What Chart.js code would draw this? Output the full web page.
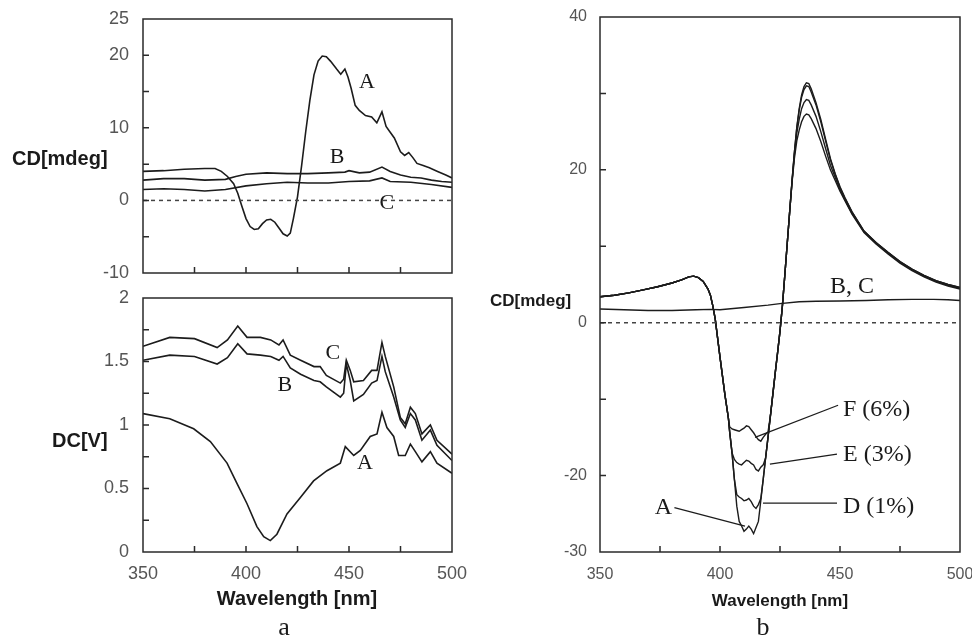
<!DOCTYPE html>
<html><head><meta charset="utf-8">
<script src="https://cdn.jsdelivr.net/npm/chart.js@4.4.0/dist/chart.umd.min.js"></script>
<style>
html,body{margin:0;padding:0;background:#fff;}
body{width:972px;height:638px;position:relative;overflow:hidden;}
canvas{position:absolute;}
.t{position:absolute;white-space:nowrap;color:#1a1a1a;}
.sans{font-family:'Liberation Sans',Arial,sans-serif;font-weight:bold;}
.serif{font-family:'Liberation Serif','Times New Roman',serif;}
</style></head><body>
<canvas id="c1" width="470" height="290" style="left:0px;top:0px"></canvas>
<canvas id="c2" width="470" height="358" style="left:0px;top:280px"></canvas>
<canvas id="c3" width="492" height="600" style="left:480px;top:0px"></canvas>
<div class="t sans" style="left:12px;top:158px;font-size:20px;line-height:20px;transform:translateY(-50%)">CD[mdeg]</div>
<div class="t sans" style="left:52px;top:440px;font-size:20px;line-height:20px;transform:translateY(-50%)">DC[V]</div>
<div class="t sans" style="left:297px;top:598px;font-size:20px;line-height:20px;transform:translate(-50%,-50%)">Wavelength [nm]</div>
<div class="t serif" style="left:284px;top:614px;font-size:26px;line-height:26px;transform:translateX(-50%)">a</div>
<div class="t sans" style="left:490px;top:300px;font-size:17px;line-height:17px;transform:translateY(-50%)">CD[mdeg]</div>
<div class="t sans" style="left:780px;top:600px;font-size:17px;line-height:17px;transform:translate(-50%,-50%)">Wavelength [nm]</div>
<div class="t serif" style="left:763px;top:614px;font-size:26px;line-height:26px;transform:translateX(-50%)">b</div>
<script>
// ---------- Panel a (top): CD [mdeg] ----------
const wlTopA = [350,360,370,380,385,388,391,394,396,398,400,402,404,406,408,410,412,414,416,418,420,421.5,423,425,427,429,431,433,435,437,439,441,444,446,448,449.5,451,453,455,458,461,463.5,466,468,470,472,475,477,479,481,483,486,489,493,497,500];
const cdTopA = [4.0,4.1,4.3,4.4,4.4,4.0,3.3,2.3,1.0,-0.8,-2.5,-3.6,-4.0,-3.9,-3.2,-2.7,-2.6,-3.0,-3.8,-4.6,-4.9,-4.5,-2.5,0.5,4.8,9.5,13.8,17.3,19.2,19.9,19.8,19.2,18.1,17.4,18.1,17.0,15.5,13.1,12.4,11.7,11.5,10.7,12.2,10.2,9.4,8.6,6.7,6.2,6.6,5.9,5.1,4.8,4.5,4.0,3.5,3.1];
const wlTopB = [350,360,370,380,390,395,400,410,420,430,440,448,450,455,460,466,470,475,480,485,490,495,500];
const cdTopB = [2.8,3.0,3.0,2.8,2.9,3.3,3.6,3.8,3.7,3.7,3.8,3.9,4.1,3.8,3.9,4.6,4.0,3.5,3.2,3.1,2.8,2.6,2.5];
const wlTopC = [350,360,370,380,390,400,410,420,430,440,450,460,466,470,480,490,500];
const cdTopC = [1.5,1.6,1.5,1.3,1.5,2.0,2.3,2.5,2.4,2.4,2.6,2.7,3.1,2.6,2.5,2.2,1.8];

// ---------- Panel a (bottom): DC [V] ----------
const wlDcBC = [350,363,375,386,391,396,400.5,407,412,416,418,421.5,426.5,433,436,439,445.8,447.4,448.7,450.6,452.3,457,461,463.6,466,467.6,471.7,474.9,477.3,479.8,482.2,485.4,489.5,492.7,500];
const dcC = [1.62,1.69,1.68,1.61,1.67,1.78,1.69,1.69,1.67,1.63,1.67,1.55,1.51,1.46,1.46,1.39,1.33,1.36,1.51,1.43,1.34,1.35,1.43,1.43,1.65,1.54,1.30,1.06,1.01,1.14,1.09,0.93,1.00,0.88,0.77];
const dcB = [1.51,1.55,1.54,1.48,1.53,1.64,1.56,1.55,1.54,1.51,1.54,1.45,1.40,1.35,1.34,1.30,1.22,1.25,1.48,1.35,1.19,1.24,1.33,1.35,1.54,1.42,1.22,1.04,0.98,1.09,1.04,0.88,0.96,0.84,0.72];
const wlDcA = [350,363,374.6,382.7,390.8,395.6,400.5,405.3,408.6,411.8,415,419.9,426.4,432.8,439.3,445.8,448.2,452.3,455.5,460.3,463.6,466,468.4,471.7,474.1,477.3,479.8,482.2,485.4,489.5,492.7,500];
const dcA = [1.09,1.05,0.97,0.87,0.70,0.54,0.38,0.20,0.12,0.09,0.14,0.30,0.43,0.56,0.64,0.70,0.83,0.76,0.80,0.91,0.93,1.10,0.98,0.91,0.76,0.76,0.85,0.79,0.71,0.79,0.70,0.62];

// ---------- Panel b: CD [mdeg] ----------
const wlB = [350,356,362,368,374,380,384,387,389,391,393,395,396,397,398,400,402,403.5,404,405,406,407,408,409,410,411,412,413,414,415,416,417,418,419,420,421,422,423,424,425,426,427,428,429,430,431,432,433,434,435,436,437,438,440,442,444,446,448,450,452,455,460,465,470,475,480,485,490,495,500];
const cdB_A = [3.4,3.6,3.9,4.3,4.7,5.2,5.6,6.0,6.1,5.9,5.4,4.4,3.6,2.2,0.5,-4.5,-9.3,-12.5,-14.2,-17.0,-20.5,-24.0,-26.0,-26.6,-27.3,-27.0,-26.6,-27.0,-27.6,-26.8,-26.0,-23.3,-20.5,-17.7,-15.0,-12.2,-9.4,-6.6,-3.9,-1.1,2.2,6.2,10.3,14.4,18.5,22.3,25.6,28.0,29.8,30.9,31.4,31.3,30.6,28.8,26.6,24.0,21.5,19.5,17.8,16.4,14.5,12.0,10.5,9.2,8.0,7.0,6.2,5.5,5.0,4.6];
const cdB_D = [3.4,3.6,3.9,4.3,4.7,5.2,5.6,6.0,6.1,5.9,5.4,4.4,3.6,2.2,0.5,-4.5,-9.3,-12.5,-14.2,-17.0,-20.5,-22.5,-22.8,-23.0,-23.3,-23.2,-23.0,-23.4,-24.0,-24.3,-23.8,-23.0,-20.5,-17.7,-15.0,-12.2,-9.4,-6.6,-3.9,-1.1,2.2,6.2,10.3,14.4,18.5,22.3,25.5,27.8,29.5,30.5,31.0,30.9,30.2,28.5,26.3,23.8,21.3,19.4,17.7,16.3,14.5,12.0,10.5,9.2,8.0,7.0,6.2,5.5,5.0,4.6];
const cdB_E = [3.4,3.6,3.9,4.3,4.7,5.2,5.6,6.0,6.1,5.9,5.4,4.4,3.6,2.2,0.5,-4.5,-9.3,-12.5,-14.2,-17.0,-17.9,-18.3,-18.5,-18.6,-18.3,-18.0,-18.1,-18.4,-18.6,-19.2,-19.4,-18.9,-18.6,-17.7,-15.0,-12.2,-9.4,-6.6,-3.9,-1.1,2.2,6.2,10.3,14.4,18.4,22.0,24.8,26.6,28.0,28.8,29.2,29.1,28.5,27.0,25.0,22.8,20.6,19.0,17.4,16.1,14.3,11.9,10.4,9.1,7.9,6.9,6.1,5.4,4.9,4.5];
const cdB_F = [3.4,3.6,3.9,4.3,4.7,5.2,5.6,6.0,6.1,5.9,5.4,4.4,3.6,2.2,0.5,-4.5,-9.3,-12.5,-13.6,-13.9,-14.0,-14.1,-14.2,-14.0,-13.8,-13.5,-13.6,-14.0,-14.4,-14.9,-15.3,-15.5,-15.0,-14.6,-14.3,-12.2,-9.4,-6.6,-3.9,-1.1,2.2,6.2,10.3,14.4,18.3,21.5,23.8,25.2,26.3,27.0,27.3,27.2,26.7,25.4,23.7,21.8,20.0,18.6,17.2,16.0,14.2,11.8,10.3,9.0,7.8,6.8,6.0,5.3,4.8,4.4];
const wlB_BC = [350,360,370,380,390,396,400,410,420,425,433,440,450,461,470,480,489,495,500];
const cdB_BC = [1.8,1.7,1.6,1.6,1.7,1.75,1.7,2.0,2.3,2.5,2.75,2.8,2.85,2.9,3.0,3.05,3.05,3.0,2.9];

const xRange = [350, 500];
const zeroLine = [0, 0];

// ---------- helpers ----------
const LINE = '#1c1c1c';
const pts = (xs, ys) => xs.map((x, i) => ({x: x, y: ys[i]}));
const curve = (xs, ys, w) => ({data: pts(xs, ys), borderColor: LINE, borderWidth: w || 1.6, pointRadius: 0, tension: 0, fill: false});
const dashed = () => ({data: pts(xRange, zeroLine), borderColor: '#444', borderWidth: 1.5, borderDash: [4, 4], pointRadius: 0, fill: false});

const framePlugin = {
  id: 'frame',
  afterDatasetsDraw(chart, args, o) {
    const {ctx, chartArea: a, scales} = chart;
    const sx = scales.x, sy = scales.y;
    ctx.save();
    ctx.strokeStyle = '#2a2a2a';
    ctx.lineWidth = 1.5;
    ctx.strokeRect(a.left, a.top, a.right - a.left, a.bottom - a.top);
    ctx.beginPath();
    sx.ticks.forEach(t => { const p = sx.getPixelForValue(t.value); if (p > a.left + 1 && p < a.right - 1) { ctx.moveTo(p, a.bottom); ctx.lineTo(p, a.bottom - 6); } });
    sy.ticks.forEach(t => { const p = sy.getPixelForValue(t.value); if (p > a.top + 1 && p < a.bottom - 1) { ctx.moveTo(a.left, p); ctx.lineTo(a.left + 6, p); } });
    ctx.stroke();
    ctx.lineWidth = 1.3;
    ctx.strokeStyle = LINE;
    (o.leaders || []).forEach(l => {
      ctx.beginPath();
      ctx.moveTo(sx.getPixelForValue(l[0]), sy.getPixelForValue(l[1]));
      ctx.lineTo(sx.getPixelForValue(l[2]), sy.getPixelForValue(l[3]));
      ctx.stroke();
    });
    ctx.fillStyle = '#1a1a1a';
    ctx.font = o.font;
    ctx.textBaseline = 'middle';
    (o.labels || []).forEach(l => {
      ctx.textAlign = l.align || 'center';
      ctx.fillText(l.text, sx.getPixelForValue(l.x), sy.getPixelForValue(l.y));
    });
    ctx.restore();
  }
};

function makeChart(id, datasets, cfg) {
  const tickFont = {family: "'Liberation Sans', Arial, sans-serif", size: cfg.tickSize};
  return new Chart(document.getElementById(id), {
    type: 'line',
    data: {datasets: datasets},
    plugins: [framePlugin],
    options: {
      responsive: false,
      animation: false,
      layout: {padding: cfg.padding},
      plugins: {legend: {display: false}, tooltip: {enabled: false}, frame: cfg.frame},
      scales: {
        x: {
          type: 'linear', min: xRange[0], max: xRange[1],
          grid: {display: false}, border: {display: false},
          ticks: {stepSize: 25, display: cfg.showX, color: '#555', font: tickFont, padding: cfg.xPad, maxRotation: 0,
            callback: v => (v % 50 === 0 ? String(v) : '')},
          afterFit: s => { s.height = cfg.xHeight; s.paddingLeft = 0; s.paddingRight = 0; }
        },
        y: {
          type: 'linear', min: cfg.yMin, max: cfg.yMax,
          grid: {display: false}, border: {display: false},
          ticks: {stepSize: cfg.yStep, color: '#555', font: tickFont, padding: cfg.yPad,
            callback: v => (cfg.yLabels.some(l => Math.abs(l - v) < 1e-6) ? String(v) : '')},
          afterFit: s => { s.width = cfg.yWidth; s.paddingTop = 0; s.paddingBottom = 0; }
        }
      }
    }
  });
}

const serifL = "22px 'Liberation Serif', 'Times New Roman', serif";
const serifR = "24px 'Liberation Serif', 'Times New Roman', serif";

makeChart('c1', [dashed(), curve(wlTopA, cdTopA), curve(wlTopB, cdTopB), curve(wlTopC, cdTopC)], {
  tickSize: 18, padding: {left: 0, top: 19, right: 18, bottom: 7}, xHeight: 10, showX: false, xPad: 3,
  yMin: -10, yMax: 25, yStep: 5, yLabels: [25, 20, 10, 0, -10], yWidth: 143, yPad: 6,
  frame: {font: serifL, labels: [
    {text: 'A', x: 458.7, y: 16.3}, {text: 'B', x: 444.2, y: 6.0}, {text: 'C', x: 468.4, y: -0.35}]}
});

makeChart('c2', [curve(wlDcBC, dcC), curve(wlDcBC, dcB), curve(wlDcA, dcA)], {
  tickSize: 18, padding: {left: 0, top: 18, right: 18, bottom: 46}, xHeight: 40, showX: true, xPad: 3,
  yMin: 0, yMax: 2, yStep: 0.25, yLabels: [0, 0.5, 1, 1.5, 2], yWidth: 143, yPad: 6,
  frame: {font: serifL, labels: [
    {text: 'C', x: 442.2, y: 1.567}, {text: 'B', x: 418.9, y: 1.315}, {text: 'A', x: 457.8, y: 0.70}]}
});

makeChart('c3', [dashed(), curve(wlB_BC, cdB_BC, 1.4), curve(wlB, cdB_A, 1.4), curve(wlB, cdB_D, 1.4), curve(wlB, cdB_E, 1.4), curve(wlB, cdB_F, 1.4)], {
  tickSize: 16, padding: {left: 0, top: 17, right: 12, bottom: 8}, xHeight: 40, showX: true, xPad: 5,
  yMin: -30, yMax: 40, yStep: 10, yLabels: [40, 20, 0, -20, -30], yWidth: 120, yPad: 5,
  frame: {font: serifR,
    labels: [
      {text: 'F (6%)', x: 451.25, y: -11.4, align: 'left'},
      {text: 'E (3%)', x: 451.25, y: -17.3, align: 'left'},
      {text: 'D (1%)', x: 451.25, y: -24.1, align: 'left'},
      {text: 'A', x: 380, y: -24.2, align: 'right'},
      {text: 'B, C', x: 445.8, y: 4.67, align: 'left'}],
    leaders: [[414.6, -15.0, 449.2, -10.8], [420.8, -18.5, 448.75, -17.2], [417.9, -23.6, 448.75, -23.6], [381, -24.2, 410.4, -26.6]]}
});
</script>
</body></html>
